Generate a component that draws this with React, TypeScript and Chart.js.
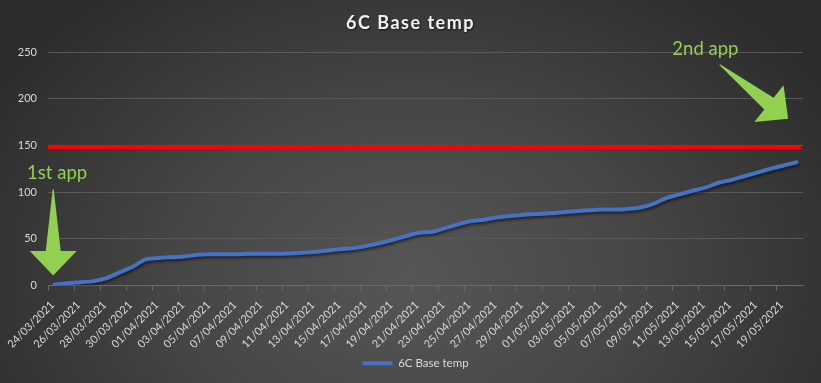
import React, { useEffect, useRef } from 'react';
import { Chart, registerables } from 'chart.js';

Chart.register(...registerables);

const titleText = '6C Base temp';
const seriesName = '6C Base temp';

const dates = [
  '24/03/2021', '25/03/2021', '26/03/2021', '27/03/2021', '28/03/2021', '29/03/2021', '30/03/2021', '31/03/2021',
  '01/04/2021', '02/04/2021', '03/04/2021', '04/04/2021', '05/04/2021', '06/04/2021', '07/04/2021', '08/04/2021',
  '09/04/2021', '10/04/2021', '11/04/2021', '12/04/2021', '13/04/2021', '14/04/2021', '15/04/2021', '16/04/2021',
  '17/04/2021', '18/04/2021', '19/04/2021', '20/04/2021', '21/04/2021', '22/04/2021', '23/04/2021', '24/04/2021',
  '25/04/2021', '26/04/2021', '27/04/2021', '28/04/2021', '29/04/2021', '30/04/2021',
  '01/05/2021', '02/05/2021', '03/05/2021', '04/05/2021', '05/05/2021', '06/05/2021', '07/05/2021', '08/05/2021',
  '09/05/2021', '10/05/2021', '11/05/2021', '12/05/2021', '13/05/2021', '14/05/2021', '15/05/2021', '16/05/2021',
  '17/05/2021', '18/05/2021', '19/05/2021', '20/05/2021',
];

const baseTemp = [
  1, 2.5, 3.6, 4.7, 7.9, 14, 20, 28,
  29.5, 30.3, 31, 33, 33.5, 33.5, 33.5, 34,
  34, 34, 34.3, 35, 36, 37.5, 39, 40,
  42.5, 45.5, 49, 53, 56.5, 57.5, 61.5, 65.5,
  69, 70.5, 73, 74.5, 75.8, 76.5,
  77.3, 78.5, 79.5, 80.5, 81.3, 81.3, 82, 83.5,
  87.5, 93.5, 97.5, 101.5, 104.7, 110, 113, 117,
  121, 125, 128.5, 132,
];

const threshold = 148;
const yMin = 0;
const yMax = 250;
const yStep = 50;

const firstAppLabel = { text: '1st app', at: [0.2, 114] };
const secondAppLabel = { text: '2nd app', at: [50, 247] };
const firstArrow = { tail: [-0.1, 103], tip: [-0.1, 10.7] };
const secondArrow = { tail: [51.1, 236.4], tip: [56.36, 178.4] };

const GREEN = '#92d050';

function drawArrow(ctx: CanvasRenderingContext2D, x0: number, y0: number, x1: number, y1: number) {
  const dx = x1 - x0;
  const dy = y1 - y0;
  const len = Math.hypot(dx, dy);
  const ux = dx / len;
  const uy = dy / len;
  const px = -uy;
  const py = ux;
  const headLen = 24.5;
  const headHalf = 23.5;
  const shaftHalf = 7.5;
  const tailHalf = 0.5;
  const bx = x1 - ux * headLen;
  const by = y1 - uy * headLen;
  ctx.beginPath();
  ctx.moveTo(x0 + px * tailHalf, y0 + py * tailHalf);
  ctx.lineTo(bx + px * shaftHalf, by + py * shaftHalf);
  ctx.lineTo(bx + px * headHalf, by + py * headHalf);
  ctx.lineTo(x1, y1);
  ctx.lineTo(bx - px * headHalf, by - py * headHalf);
  ctx.lineTo(bx - px * shaftHalf, by - py * shaftHalf);
  ctx.lineTo(x0 - px * tailHalf, y0 - py * tailHalf);
  ctx.closePath();
  ctx.fill();
}

const shadowPlugin = {
  id: 'lineShadow',
  beforeDatasetsDraw(chart: any) {
    const ctx = chart.ctx;
    ctx.save();
    ctx.shadowColor = 'rgba(0,0,0,0.55)';
    ctx.shadowBlur = 3;
    ctx.shadowOffsetX = 1;
    ctx.shadowOffsetY = 2;
  },
  afterDatasetsDraw(chart: any) {
    chart.ctx.restore();
  },
};

const legendShiftPlugin = {
  id: 'legendShift',
  afterLayout(chart: any) {
    const lg = chart.legend;
    if (lg) {
      lg.left += 14;
      lg.right += 14;
    }
  },
};

const titlePlugin = {
  id: 'customTitle',
  afterDraw(chart: any) {
    const ctx = chart.ctx;
    ctx.save();
    ctx.font = 'bold 18px Lato';
    try { (ctx as any).letterSpacing = '1.5px'; } catch (e) {}
    ctx.textAlign = 'center';
    ctx.textBaseline = 'middle';
    ctx.shadowColor = 'rgba(0,0,0,0.6)';
    ctx.shadowBlur = 2;
    ctx.shadowOffsetX = 1;
    ctx.shadowOffsetY = 1;
    ctx.fillStyle = '#f2f2f2';
    ctx.fillText(titleText, chart.width / 2, 23.5);
    ctx.restore();
  },
};

const annotationPlugin = {
  id: 'annotations',
  afterDatasetsDraw(chart: any) {
    const ctx = chart.ctx;
    const xs = chart.scales.x;
    const ys = chart.scales.y;
    const area = chart.chartArea;
    ctx.save();
    const ty = ys.getPixelForValue(threshold);
    ctx.strokeStyle = '#ff0000';
    ctx.lineWidth = 4;
    ctx.beginPath();
    ctx.moveTo(area.left, ty);
    ctx.lineTo(area.right - 2, ty);
    ctx.stroke();

    ctx.fillStyle = GREEN;
    for (const a of [firstArrow, secondArrow]) {
      drawArrow(
        ctx,
        xs.getPixelForValue(a.tail[0]), ys.getPixelForValue(a.tail[1]),
        xs.getPixelForValue(a.tip[0]), ys.getPixelForValue(a.tip[1])
      );
    }
    ctx.font = '18.5px Lato';
    ctx.textAlign = 'center';
    ctx.textBaseline = 'alphabetic';
    for (const l of [firstAppLabel, secondAppLabel]) {
      ctx.fillText(l.text, xs.getPixelForValue(l.at[0]), ys.getPixelForValue(l.at[1]));
    }
    ctx.restore();
  },
};

export default function App() {
  const ref = useRef<HTMLCanvasElement | null>(null);

  useEffect(() => {
    if (!ref.current) return;
    Chart.defaults.font.family = 'Lato';
    const chart = new Chart(ref.current, {
      type: 'line',
      data: {
        labels: dates,
        datasets: [
          {
            label: seriesName,
            data: baseTemp,
            borderColor: '#4472c4',
            backgroundColor: '#4472c4',
            borderWidth: 4,
            pointRadius: 0,
            tension: 0.3,
            borderCapStyle: 'round',
            fill: false,
          },
        ],
      },
      options: {
        animation: false,
        responsive: false,
        maintainAspectRatio: false,
        layout: { padding: { left: 0, right: 18, top: 52, bottom: 4 } },
        plugins: {
          title: { display: false },
          legend: {
            display: true,
            position: 'bottom',
            labels: {
              color: '#d9d9d9',
              font: { size: 11.5, family: 'Lato' },
              boxWidth: 30,
              boxHeight: 4,
              padding: 10,
              generateLabels: (chart: any) =>
                chart.data.datasets.map((d: any, i: number) => ({
                  text: d.label,
                  fillStyle: d.borderColor,
                  strokeStyle: d.borderColor,
                  lineWidth: 0,
                  fontColor: '#d9d9d9',
                  datasetIndex: i,
                  hidden: false,
                })),
            },
          },
          tooltip: { enabled: false },
        },
        scales: {
          x: {
            type: 'category',
            offset: true,
            grid: {
              display: true,
              drawOnChartArea: false,
              drawTicks: true,
              tickLength: 5,
              offset: true,
              color: (c: any) => (c.index % 2 === 0 ? '#6a6a6a' : 'rgba(0,0,0,0)'),
            },
            border: { display: true, color: '#6a6a6a', width: 1 },
            ticks: {
              autoSkip: false,
              maxRotation: 45,
              minRotation: 45,
              color: '#d9d9d9',
              font: { size: 11, family: 'Lato' },
              padding: 8,
              labelOffset: -2,
              callback: (_v: any, i: number) => (i % 2 === 0 ? dates[i] : ''),
            },
            afterFit: (s: any) => {
              s.height = 62;
            },
          },
          y: {
            min: yMin,
            max: yMax,
            ticks: {
              stepSize: yStep,
              color: '#d9d9d9',
              font: { size: 11, family: 'Lato' },
              padding: 11,
            },
            grid: { color: '#595959', drawTicks: false, lineWidth: 1 },
            border: { display: false },
            afterFit: (s: any) => {
              s.width = 48;
            },
          },
        },
      },
      plugins: [shadowPlugin, annotationPlugin, legendShiftPlugin, titlePlugin],
    } as any);
    return () => chart.destroy();
  }, []);

  return (
    <div
      style={{
        position: 'fixed',
        left: 0,
        top: 0,
        width: 821,
        height: 383,
        background:
          'radial-gradient(ellipse 60% 95% at 50% 72%, #565656 0%, #474747 45%, #2c2c2c 100%)',
      }}
    >
      <canvas ref={ref} width={821} height={383} style={{ display: 'block' }} />
    </div>
  );
}
